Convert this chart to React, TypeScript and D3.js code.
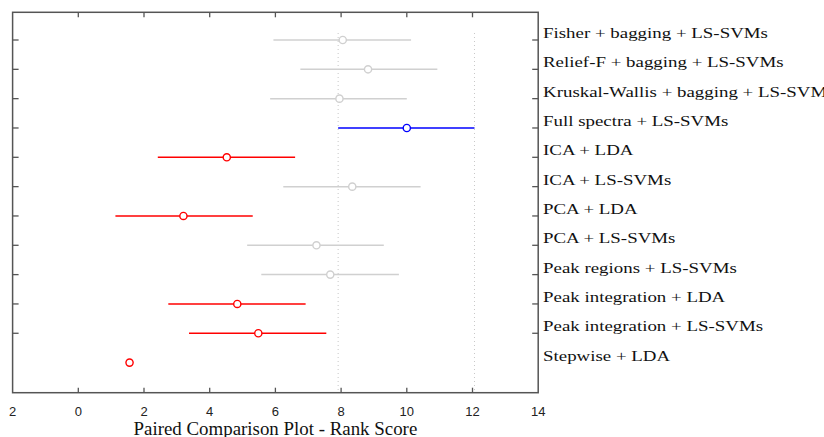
import React from "react";
import * as d3 from "d3";

// rows top to bottom
const methods = [
  "Fisher + bagging + LS-SVMs",
  "Relief-F + bagging + LS-SVMs",
  "Kruskal-Wallis + bagging + LS-SVMs",
  "Full spectra + LS-SVMs",
  "ICA + LDA",
  "ICA + LS-SVMs",
  "PCA + LDA",
  "PCA + LS-SVMs",
  "Peak regions + LS-SVMs",
  "Peak integration + LDA",
  "Peak integration + LS-SVMs",
  "Stepwise + LDA",
];
const means = [8.05, 8.82, 7.95, 10.0, 4.52, 8.34, 3.2, 7.25, 7.67, 4.84, 5.48, 1.56];
const lower = [5.94, 6.76, 5.84, 7.91, 2.42, 6.24, 1.13, 5.14, 5.57, 2.74, 3.37, 1.56];
const upper = [10.13, 10.93, 10.0, 12.06, 6.6, 10.42, 5.31, 9.3, 9.76, 6.92, 7.55, 1.56];
// 0 = not significantly different (grey), 1 = selected (blue), 2 = different (red)
const groups = [0, 0, 0, 1, 2, 0, 2, 0, 0, 2, 2, 2];
const selected = 3;
const xTicks = [-2, 0, 2, 4, 6, 8, 10, 12, 14];
const xTickLabels = ["2", "0", "2", "4", "6", "8", "10", "12", "14"];
const xTitle = "Paired Comparison Plot - Rank Score";

const colors = ["#d0d0d0", "#0000ff", "#ff0000"];

export default function App() {
  const W = 824, H = 437;
  const left = 12.6, right = 538.2, top = 12.3, bottom = 392.7;
  const x = d3.scaleLinear().domain([-2, 14]).range([left, right]);
  const y = d3.scaleLinear().domain([0, 11]).range([40, 362.6]);
  const rowTicks = d3.range(0, 11);
  const frame = "#555";

  return (
    <svg width={W} height={H} style={{ position: "absolute", left: 0, top: 0, background: "#fff" }}>
      {/* dotted reference lines at the selected interval */}
      {[lower[selected], upper[selected]].map((v, i) => (
        <line key={"ref" + i} x1={x(v)} x2={x(v)} y1={33} y2={bottom}
          stroke="#c8c8c8" strokeWidth={1} strokeDasharray="1,3" />
      ))}

      {/* intervals */}
      {methods.map((m, i) => (
        <g key={m}>
          {upper[i] > lower[i] && (
            <line x1={x(lower[i])} x2={x(upper[i])} y1={y(i)} y2={y(i)}
              stroke={colors[groups[i]]} strokeWidth={1.5} />
          )}
          <circle cx={x(means[i])} cy={y(i)} r={3.6} fill="#fff"
            stroke={colors[groups[i]]} strokeWidth={1.4} />
        </g>
      ))}

      {/* frame */}
      <rect x={left} y={top} width={right - left} height={bottom - top}
        fill="none" stroke={frame} strokeWidth={1.5} />

      {/* x ticks top and bottom */}
      {xTicks.slice(1, -1).map((t) => (
        <g key={"xt" + t}>
          <line x1={x(t)} x2={x(t)} y1={top} y2={top + 5} stroke={frame} strokeWidth={1.3} />
          <line x1={x(t)} x2={x(t)} y1={bottom} y2={bottom - 5} stroke={frame} strokeWidth={1.3} />
        </g>
      ))}
      {xTicks.map((t, i) => (
        <text key={"xl" + t} x={x(t)} y={416} textAnchor="middle"
          fontFamily="Liberation Sans, Arial, sans-serif" fontSize={13} fill="#222">
          {xTickLabels[i]}
        </text>
      ))}

      {/* y ticks left and right */}
      {rowTicks.map((r) => (
        <g key={"yt" + r}>
          <line x1={left} x2={left + 6} y1={y(r)} y2={y(r)} stroke={frame} strokeWidth={1.3} />
          <line x1={right} x2={right - 6} y1={y(r)} y2={y(r)} stroke={frame} strokeWidth={1.3} />
        </g>
      ))}

      {/* row labels on the right */}
      {methods.map((m, i) => (
        <text key={"lab" + i} transform={`translate(543, ${y(i) - 2}) scale(1.35, 1)`}
          fontFamily="Liberation Serif, Times New Roman, serif" fontSize={14} fill="#111">
          {m}
        </text>
      ))}

      <text transform={`translate(${(left + right) / 2}, 434.5) scale(1.05, 1)`} textAnchor="middle"
        fontFamily="Liberation Serif, Times New Roman, serif" fontSize={18} fill="#111">
        {xTitle}
      </text>
    </svg>
  );
}
